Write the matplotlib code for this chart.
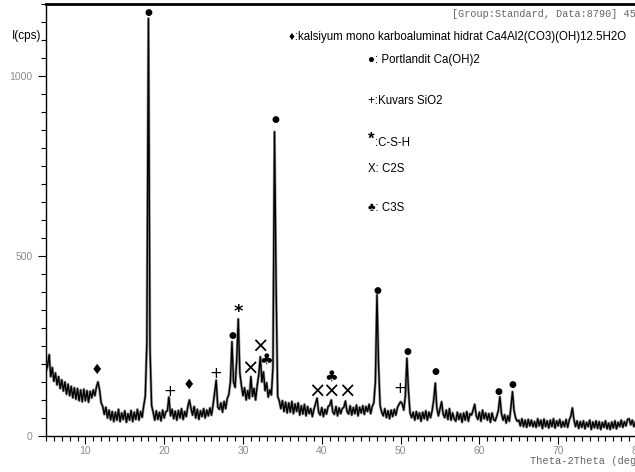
import numpy as np
import matplotlib.pyplot as plt
from matplotlib.ticker import MultipleLocator, FixedLocator

plt.rcParams['font.family'] = ['Liberation Sans', 'DejaVu Sans']

# XRD scan, 0.2 deg step, counts
two_theta = np.round(np.arange(5.0, 80.01, 0.2), 1)
counts = [
    180, 195, 226, 165, 190, 152, 175, 142, 165, 132,   # 5.0
    156, 125, 150, 116, 144, 112, 138, 106, 134, 102,   # 7.0
    132, 98, 128, 95, 130, 98, 126, 94, 124, 106,       # 9.0
    128, 112, 136, 150, 128, 92, 82, 60, 80, 50,        # 11.0
    72, 45, 68, 40, 66, 44, 74, 40, 64, 46,             # 13.0
    70, 38, 62, 44, 71, 40, 66, 46, 74, 44,             # 15.0
    68, 52, 84, 110, 260, 1160, 240, 85, 66, 44,        # 17.0
    70, 46, 66, 42, 72, 50, 67, 70, 108, 56,            # 19.0
    74, 48, 69, 44, 71, 50, 76, 46, 68, 54,             # 21.0
    82, 100, 76, 58, 82, 50, 74, 46, 70, 54,            # 23.0
    76, 50, 72, 56, 78, 58, 86, 120, 155, 80,           # 25.0
    74, 92, 66, 96, 76, 104, 115, 150, 262, 150,        # 27.0
    135, 210, 325, 175, 140, 112, 134, 100, 126, 104,   # 29.0
    165, 110, 132, 100, 140, 170, 220, 150, 178, 126,   # 31.0
    148, 108, 128, 114, 190, 845, 420, 110, 98, 76,     # 33.0
    98, 68, 94, 64, 92, 66, 96, 62, 89, 68,             # 35.0
    92, 58, 84, 61, 88, 56, 82, 62, 76, 54,             # 37.0
    74, 90, 105, 66, 58, 79, 54, 74, 61, 82,            # 39.0
    85, 100, 66, 60, 82, 56, 78, 62, 76, 80,            # 41.0
    97, 68, 61, 84, 58, 79, 62, 86, 56, 80,             # 43.0
    64, 84, 60, 82, 68, 88, 62, 82, 92, 150,            # 45.0
    392, 200, 85, 66, 56, 76, 51, 70, 48, 72,           # 47.0
    54, 74, 58, 79, 88, 95, 90, 72, 110, 216,           # 49.0
    125, 64, 51, 66, 44, 68, 48, 64, 41, 66,            # 51.0
    48, 70, 44, 66, 51, 70, 100, 147, 78, 56,           # 53.0
    76, 95, 61, 51, 72, 46, 76, 44, 64, 48,             # 55.0
    41, 66, 46, 62, 38, 64, 44, 68, 41, 62,             # 57.0
    58, 72, 88, 56, 46, 66, 41, 72, 48, 64,             # 59.0
    44, 62, 38, 64, 46, 42, 55, 70, 109, 62,            # 61.0
    44, 59, 36, 56, 41, 80, 123, 70, 50, 41,            # 63.0
    44, 28, 48, 26, 44, 24, 46, 28, 44, 26,             # 65.0
    40, 24, 48, 28, 44, 21, 47, 26, 42, 22,             # 67.0
    44, 26, 48, 22, 42, 28, 46, 24, 40, 26,             # 69.0
    46, 24, 44, 55, 78, 45, 26, 42, 21, 40,             # 71.0
    24, 42, 20, 38, 26, 44, 18, 39, 23, 42,             # 73.0
    21, 40, 18, 38, 24, 42, 20, 36, 18, 39,             # 75.0
    22, 42, 20, 38, 26, 44, 24, 40, 28, 46,             # 77.0
    48, 31, 44, 26, 40, 28,                             # 79.0
]

# phase marks above the peaks
mark_theta = [11.5, 18.0, 20.7, 23.1, 26.5, 28.6, 29.4, 30.9, 32.1, 32.9,
              34.1, 39.4, 41.2, 43.2, 41.2, 47.1, 49.9, 50.9, 54.4, 62.4, 64.2]
mark_counts = [183, 1176, 125, 141, 174, 280, 345, 187, 247, 213,
               878, 122, 122, 122, 167, 405, 133, 236, 178, 123, 144]
mark_symbol = ['♦', '●', '+', '♦', '+', '●', '*', '×', '×', '♣',
               '●', '×', '×', '×', '♣', '●', '+', '●', '●', '●', '●']
symbol_size = {'♦': 10, '●': 6.5, '+': 11, '*': 13, '×': 15, '♣': 11}

legend_lines = ['♦:kalsiyum mono karboaluminat hidrat Ca4Al2(CO3)(OH)12.5H2O',
                '●: Portlandit Ca(OH)2',
                '+:Kuvars SiO2',
                ':C-S-H',
                'X: C2S',
                '♣: C3S']
legend_xy = [(289, 37), (368, 60), (368, 101), (375, 143), (368, 169), (368, 208)]

W, H = 635, 472
fig = plt.figure(figsize=(W / 100, H / 100), dpi=100)
ax = fig.add_axes([46 / W, 1 - 436 / H, 591 / W, 432 / H])

ax.plot(two_theta, counts, color='#9a9a9a', lw=2.0)
ax.plot(two_theta, counts, color='black', lw=1.0)

for t, c, s in zip(mark_theta, mark_counts, mark_symbol):
    ax.text(t, c, s, ha='center', va='center', fontsize=symbol_size[s],
            color='black', family=['DejaVu Sans'],
            fontweight='bold' if s == '*' else 'normal')

ax.set_xlim(5, 80)
ax.set_ylim(0, 1200)
ax.xaxis.set_major_locator(MultipleLocator(10))
ax.xaxis.set_minor_locator(MultipleLocator(1))
ax.yaxis.set_major_locator(FixedLocator([0, 500, 1000]))
ax.yaxis.set_minor_locator(MultipleLocator(50))
ax.tick_params(which='major', length=6, width=0.8, labelsize=7.5,
               labelcolor='#8c8c8c', direction='out')
ax.tick_params(axis='x', which='major', pad=1.5)
ax.tick_params(which='minor', length=3.5, width=0.8, direction='out')
ax.spines['right'].set_visible(False)
ax.spines['top'].set_linewidth(2)
for side in ['left', 'bottom']:
    ax.spines[side].set_linewidth(1)

fig.text(12 / W, 1 - 36 / H, 'I(cps)', fontsize=8.5, va='center', ha='left')
fig.text(452 / W, 1 - 14 / H, '[Group:Standard, Data:8790] 45',
         family='Liberation Mono', fontsize=7.3, color='#666666', va='center')
fig.text(530 / W, 1 - 461 / H, 'Theta-2Theta (deg)',
         family='Liberation Mono', fontsize=7.5, color='#666666', va='center')

for (px, py), line in zip(legend_xy, legend_lines):
    fig.text(px / W, 1 - py / H, line, fontsize=8.3, va='center', ha='left')
# the C-S-H key uses a bigger, raised star
fig.text(368 / W, 1 - 139 / H, '*', fontsize=12, fontweight='bold',
         va='center', ha='left')

fig.savefig('out.png', dpi=100)
